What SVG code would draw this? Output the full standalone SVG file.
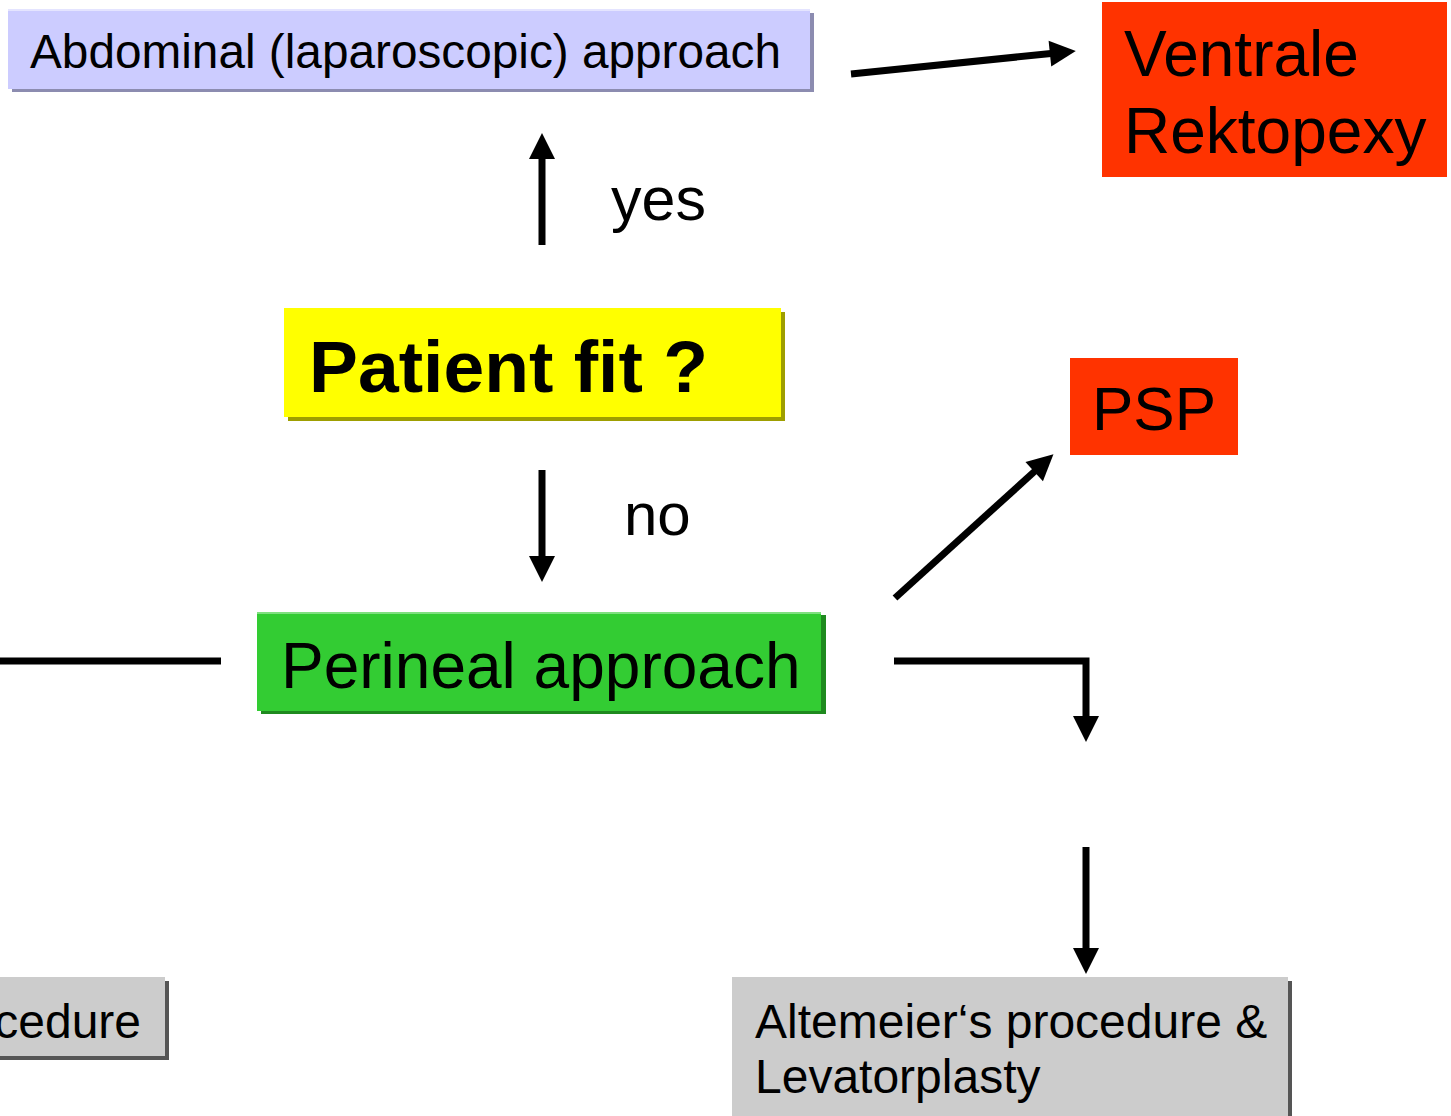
<svg xmlns="http://www.w3.org/2000/svg" width="1451" height="1116" viewBox="0 0 1451 1116">
<style>
text{font-family:"Liberation Sans",Arial,sans-serif;fill:#000}
.c{stroke:#000;stroke-width:7;fill:none}
</style>
<defs>
<marker id="ah" markerUnits="userSpaceOnUse" markerWidth="26" markerHeight="26" viewBox="0 0 24 24" refX="1" refY="12" orient="auto" overflow="visible">
<path d="M0,0 L24,12 L0,24 Z" fill="#000"/>
</marker>
</defs>
<rect width="1451" height="1116" fill="#fff"/>
<g id="abdominal">
<rect x="12" y="13" width="802" height="79" fill="#8C8CB0"/>
<rect x="8" y="9" width="802" height="80" fill="#CCCCFF"/>
<rect x="8" y="9" width="802" height="2" fill="#E4E4FF"/>
<text x="30" y="68" font-size="48" textLength="751" lengthAdjust="spacingAndGlyphs">Abdominal (laparoscopic) approach</text>
</g>
<g id="ventrale">
<rect x="1102" y="2" width="345" height="175" fill="#FF3300"/>
<text x="1124" y="76" font-size="64">Ventrale</text>
<text x="1124" y="153" font-size="64">Rektopexy</text>
</g>
<g id="patient">
<rect x="288" y="312" width="497" height="109" fill="#9E9E00"/>
<rect x="284" y="308" width="497" height="109" fill="#FFFF00"/>
<text x="309" y="392" font-size="72" font-weight="bold" textLength="399" lengthAdjust="spacingAndGlyphs">Patient fit ?</text>
</g>
<g id="yes-label"><text x="611" y="220" font-size="61">yes</text></g>
<g id="no-label"><text x="624" y="535" font-size="60">no</text></g>
<g id="psp">
<rect x="1070" y="358" width="168" height="97" fill="#FF3300"/>
<text x="1092" y="430" font-size="62">PSP</text>
</g>
<g id="perineal">
<rect x="261" y="615" width="565" height="99" fill="#1F8A1F"/>
<rect x="257" y="612" width="564" height="99" fill="#33CC33"/>
<rect x="257" y="612" width="564" height="2" fill="#7FE07F"/>
<text x="281" y="688" font-size="64">Perineal approach</text>
</g>
<g id="procedure-left">
<rect x="-6" y="981" width="175" height="79" fill="#555555"/>
<rect x="-10" y="977" width="175" height="79" fill="#CCCCCC"/>
<text x="141" y="1038" font-size="48" text-anchor="end">cedure</text>
</g>
<g id="altemeier">
<rect x="736" y="981" width="556" height="140" fill="#555555"/>
<rect x="732" y="977" width="556" height="140" fill="#CCCCCC"/>
<text x="755" y="1038" font-size="48">Altemeier‘s procedure &amp;</text>
<text x="755" y="1093" font-size="48">Levatorplasty</text>
</g>
<g id="connectors">
<line class="c" x1="851" y1="74" x2="1051" y2="53.5" marker-end="url(#ah)"/>
<line class="c" x1="542" y1="245" x2="542" y2="158" marker-end="url(#ah)"/>
<line class="c" x1="542" y1="470" x2="542" y2="557" marker-end="url(#ah)"/>
<line class="c" x1="895" y1="598" x2="1035" y2="471" marker-end="url(#ah)"/>
<path class="c" d="M894,661 H1086 V717" marker-end="url(#ah)"/>
<line class="c" x1="1086" y1="847" x2="1086" y2="949" marker-end="url(#ah)"/>
<line class="c" x1="0" y1="661" x2="221" y2="661"/>
</g>
</svg>
